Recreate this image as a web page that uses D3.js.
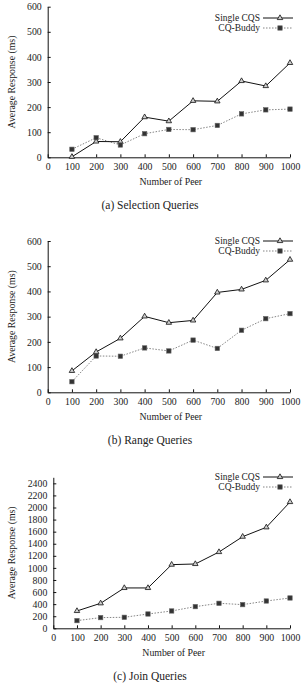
<!doctype html>
<html>
<head>
<script src="https://d3js.org/d3.v7.min.js"></script>
<style>
  body { margin: 0; background: #fff; }
  svg text { font-family: "Liberation Serif", "DejaVu Serif", serif; fill: #222; }
</style>
</head>
<body>
<script>
var peers = [100, 200, 300, 400, 500, 600, 700, 800, 900, 1000];
var xTicks = [0, 100, 200, 300, 400, 500, 600, 700, 800, 900, 1000];

var selSingle = [2, 63, 62, 160, 144, 225, 223, 304, 284, 376];
var selBuddy  = [32, 78, 49, 94, 111, 110, 127, 173, 189, 192];

var rangeSingle = [85, 160, 214, 301, 276, 285, 396, 408, 444, 526];
var rangeBuddy  = [42, 144, 143, 176, 164, 207, 174, 246, 292, 312];

var joinSingle = [287, 414, 668, 668, 1054, 1065, 1263, 1517, 1672, 2091];
var joinBuddy  = [127, 177, 182, 237, 287, 359, 414, 392, 452, 502];

var panels = [
  {single: selSingle, buddy: selBuddy, yMax: 600, yTicks: d3.range(0, 601, 100),
   left: 47.7, top: 6.7, bottom: 157.3, legendY: 18, caption: "(a)  Selection  Queries"},
  {single: rangeSingle, buddy: rangeBuddy, yMax: 600, yTicks: d3.range(0, 601, 100),
   left: 47.7, top: 241, bottom: 392.3, legendY: 241, caption: "(b)  Range  Queries"},
  {single: joinSingle, buddy: joinBuddy, yMax: 2500, yTicks: d3.range(0, 2401, 200),
   left: 53.3, top: 477.3, bottom: 628.3, legendY: 477, caption: "(c)  Join  Queries"}
];

var svg = d3.select("body").append("svg").attr("width", 303).attr("height", 684);

panels.forEach(function(p) {
  var x = d3.scaleLinear().domain([0, 1000]).range([p.left, 290]);
  var y = d3.scaleLinear().domain([0, p.yMax]).range([p.bottom, p.top]);
  var g = svg.append("g");

  var xAxis = g.append("g").attr("transform", "translate(0," + p.bottom + ")")
    .call(d3.axisBottom(x).tickValues(xTicks).tickFormat(d3.format("d"))
      .tickSizeInner(-3).tickSizeOuter(0).tickPadding(6));
  var yAxis = g.append("g").attr("transform", "translate(" + p.left + ",0)")
    .call(d3.axisLeft(y).tickValues(p.yTicks).tickFormat(d3.format("d"))
      .tickSizeInner(-3).tickSizeOuter(0).tickPadding(6));
  [xAxis, yAxis].forEach(function(a) {
    a.select(".domain").attr("stroke", "#111").attr("stroke-width", 1);
    a.selectAll(".tick line").attr("stroke", "#111");
    a.selectAll("text").attr("font-size", 9.8).attr("fill", "#333")
      .attr("font-family", "Liberation Serif, serif");
  });

  // x axis title, caption, y title
  g.append("text").attr("x", (p.left + 290) / 2 + 2).attr("y", p.bottom + 28)
    .attr("text-anchor", "middle").attr("font-size", 9.8).attr("fill", "#333").text("Number of Peer");
  g.append("text").attr("x", 150).attr("y", p.bottom + 52)
    .attr("text-anchor", "middle").attr("font-size", 11.5).text(p.caption);
  g.append("text")
    .attr("transform", "translate(15," + (p.top + p.bottom) / 2 + ") rotate(-90)")
    .attr("text-anchor", "middle").attr("font-size", 9.8).attr("fill", "#333").text("Average Response (ms)");

  var line = d3.line().x(function(d, i) { return x(peers[i]); }).y(function(d) { return y(d); });

  g.append("path").attr("d", line(p.buddy)).attr("fill", "none")
    .attr("stroke", "#777").attr("stroke-width", 0.9).attr("stroke-dasharray", "1.5,1.5");
  g.append("path").attr("d", line(p.single)).attr("fill", "none")
    .attr("stroke", "#111").attr("stroke-width", 1);

  var tri = d3.symbol().type(d3.symbolTriangle).size(13);
  g.selectAll("path.tri").data(p.single).enter().append("path").attr("class", "tri")
    .attr("d", tri)
    .attr("transform", function(d, i) { return "translate(" + x(peers[i]) + "," + y(d) + ")"; })
    .attr("fill", "#ccc").attr("stroke", "#111").attr("stroke-width", 0.8);
  g.selectAll("rect.sq").data(p.buddy).enter().append("rect").attr("class", "sq")
    .attr("x", function(d, i) { return x(peers[i]) - 2.2; })
    .attr("y", function(d) { return y(d) - 2.2; })
    .attr("width", 4.4).attr("height", 4.4)
    .attr("fill", "#333").attr("stroke", "#666").attr("stroke-width", 0.6);

  // legend
  var ly = p.legendY;
  var legend = g.append("g");
  legend.append("text").attr("x", 260).attr("y", ly + 3).attr("text-anchor", "end")
    .attr("font-size", 9.5).text("Single CQS");
  legend.append("line").attr("x1", 263).attr("x2", 293).attr("y1", ly).attr("y2", ly)
    .attr("stroke", "#111").attr("stroke-width", 1);
  legend.append("path").attr("d", tri).attr("transform", "translate(280," + ly + ")")
    .attr("fill", "#ccc").attr("stroke", "#111").attr("stroke-width", 0.8);
  legend.append("text").attr("x", 260).attr("y", ly + 13).attr("text-anchor", "end")
    .attr("font-size", 9.5).text("CQ-Buddy");
  legend.append("line").attr("x1", 263).attr("x2", 293).attr("y1", ly + 10).attr("y2", ly + 10)
    .attr("stroke", "#777").attr("stroke-width", 0.9).attr("stroke-dasharray", "1.5,1.5");
  legend.append("rect").attr("x", 277.8).attr("y", ly + 7.8).attr("width", 4.4).attr("height", 4.4)
    .attr("fill", "#333").attr("stroke", "#666").attr("stroke-width", 0.6);
});
</script>
</body>
</html>
